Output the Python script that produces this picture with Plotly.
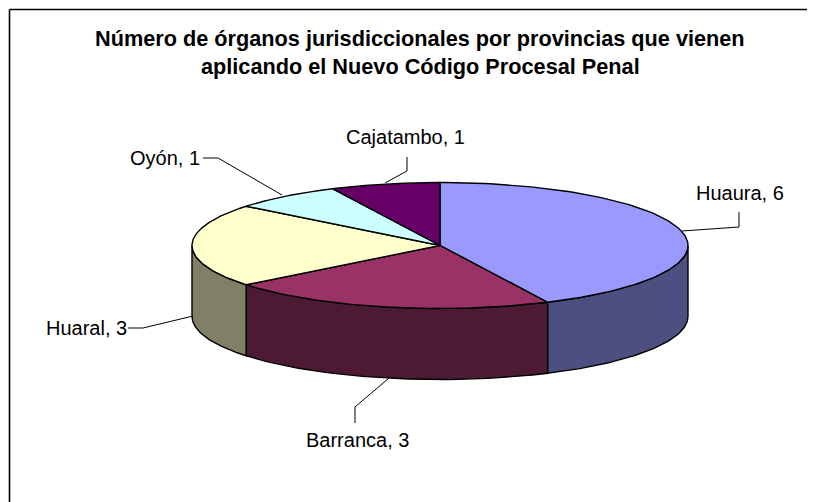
import math
import numpy as np
import plotly.graph_objects as go

categories = ["Huaura", "Barranca", "Huaral", "Oyón", "Cajatambo"]
values = [6, 3, 3, 1, 1]
top_colors = ["#9999FF", "#993366", "#FFFFCC", "#CCFFFF", "#660066"]
side_colors = ["#4D4F80", "#4D1A33", "#808066", "#668080", "#330033"]
title_lines = ["Número de órganos jurisdiccionales por provincias que vienen",
               "aplicando el Nuevo Código Procesal Penal"]

CX, CY, RX, RY, DEPTH = 440, 245.5, 248, 63, 71
total = sum(values)


def pt(a, dy=0.0):
    return CX + RX * np.sin(a), CY - RY * np.cos(a) + dy


fig = go.Figure()
edges = np.cumsum([0] + values) / total * 2 * math.pi
LINE = dict(color="#000000", width=1.4)

# Rim walls: only the front half of the disc (angles 90..270 degrees clockwise from top)
for i, c in enumerate(side_colors):
    a0, a1 = max(edges[i], math.pi / 2), min(edges[i + 1], 3 * math.pi / 2)
    if a1 <= a0:
        continue
    t = np.linspace(a0, a1, 80)
    xt, yt = pt(t)
    xb, yb = pt(t[::-1], DEPTH)
    fig.add_trace(go.Scatter(x=np.r_[xt, xb, xt[0]], y=np.r_[yt, yb, yt[0]], mode="lines",
                             fill="toself", fillcolor=c, line=LINE, hoverinfo="skip"))

# Top faces
for i, c in enumerate(top_colors):
    t = np.linspace(edges[i], edges[i + 1], 120)
    xt, yt = pt(t)
    fig.add_trace(go.Scatter(x=np.r_[CX, xt, CX], y=np.r_[CY, yt, CY], mode="lines",
                             fill="toself", fillcolor=c, line=LINE, hoverinfo="skip"))

# Leader lines and data labels
leaders = {
    "Huaura": ([682, 739, 739], [231, 227, 212], 740, 193, "center"),
    "Barranca": ([389, 355, 355], [378, 407, 423], 357, 440, "center"),
    "Huaral": ([193, 143, 128], [316, 328, 328], 44, 328, "left"),
    "Oyón": ([282, 218, 203], [195, 158, 158], 128, 158, "left"),
    "Cajatambo": ([385, 407, 407], [183, 171, 157], 405, 137, "center"),
}
for name, v in zip(categories, values):
    lx, ly, tx, ty, al = leaders[name]
    fig.add_trace(go.Scatter(x=lx, y=ly, mode="lines", hoverinfo="skip",
                             line=dict(color="#000000", width=1)))
    fig.add_annotation(x=tx, y=ty, text=f"{name}, {v}", showarrow=False, xanchor=al,
                       yanchor="middle", font=dict(family="Liberation Sans", size=20, color="#000000"))

for line, y in zip(title_lines, [38, 66]):
    fig.add_annotation(x=420, y=y, text=f"<b>{line}</b>", showarrow=False, xanchor="center",
                       yanchor="middle", font=dict(family="Liberation Sans", size=21.7, color="#000000"))

# The page has an 8px body margin, so the plot area covers the picture from (8, 8) on
fig.update_layout(
    width=807, height=494, margin=dict(l=0, r=0, t=0, b=0), showlegend=False,
    paper_bgcolor="#FFFFFF", plot_bgcolor="#FFFFFF",
    xaxis=dict(range=[8, 815], visible=False, fixedrange=True),
    yaxis=dict(range=[502, 8], visible=False, fixedrange=True),
)
fig.add_shape(type="line", x0=9.5, y0=9.5, x1=815, y1=9.5, line=dict(color="#000000", width=1.6))
fig.add_shape(type="line", x0=9.5, y0=9.5, x1=9.5, y1=502, line=dict(color="#000000", width=1.6))
fig.write_html("out.html")
